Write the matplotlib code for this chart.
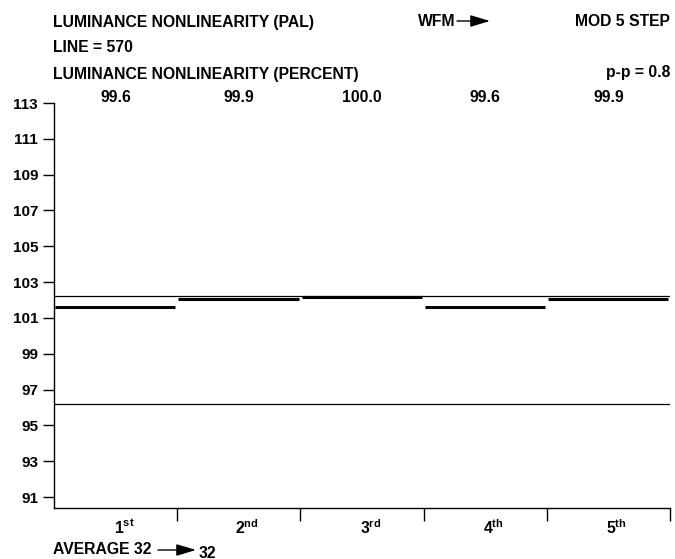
import matplotlib
matplotlib.use("Agg")
import matplotlib.pyplot as plt
from matplotlib.patches import FancyArrowPatch

plt.rcParams['font.family'] = ['Liberation Sans', 'DejaVu Sans']
plt.rcParams['font.weight'] = 'bold'
plt.rcParams['mathtext.fontset'] = 'custom'
plt.rcParams['mathtext.rm'] = 'Liberation Sans:bold'
plt.rcParams['mathtext.bf'] = 'Liberation Sans:bold'

# ---- data ----
steps = ["1st", "2nd", "3rd", "4th", "5th"]
step_num = ["1", "2", "3", "4", "5"]
step_sup = ["st", "nd", "rd", "th", "th"]
step_values = [101.63, 102.04, 102.16, 101.59, 102.06]   # plotted level of each step
step_percent = ["99.6", "99.9", "100.0", "99.6", "99.9"]  # printed percents
upper_ref = 102.2
lower_ref = 96.18
yticks = [91, 93, 95, 97, 99, 101, 103, 105, 107, 109, 111, 113]

W, H = 675, 559
fig = plt.figure(figsize=(W / 100, H / 100), dpi=100)

def fx(px):
    return px / W

def fy(py):
    return 1 - py / H

ax_left, ax_right, ax_top, ax_bot = 54, 670, 103, 508
ax = fig.add_axes([fx(ax_left), fy(ax_bot), (ax_right - ax_left) / W, (ax_bot - ax_top) / H])
ax.set_xlim(0, len(steps))
ax.set_ylim(90.39, 113)

for s in ['top', 'right']:
    ax.spines[s].set_visible(False)
for s in ['left', 'bottom']:
    ax.spines[s].set_linewidth(1.0)

ax.set_yticks(yticks)
ax.set_yticklabels([str(t) for t in yticks], fontsize=11, fontweight='bold')
ax.tick_params(axis='y', direction='out', length=8, width=1, pad=3.5)
ax.set_xticks(range(1, len(steps) + 1))
ax.set_xticklabels([])
ax.tick_params(axis='x', direction='out', length=9.4, width=1)

# reference lines
ax.axhline(upper_ref, color='black', lw=0.9)
ax.axhline(lower_ref, color='black', lw=0.9)

# step segments
for i, v in enumerate(step_values):
    ax.hlines(v, i + 0.01, i + 0.985, color='black', lw=2.2)

# category labels with superscript
for i in range(len(steps)):
    ax.annotate(r'$\mathbf{%s^{%s}}$' % (step_num[i], step_sup[i]),
                (i + 0.5, 0), xycoords=ax.get_xaxis_transform(),
                xytext=(6, -14), textcoords='offset points',
                ha='center', va='center', fontsize=11.3)

# percent values on top
for i, p in enumerate(step_percent):
    ax.annotate(p, (i + 0.5, 113), xytext=(0, 4), textcoords='offset points',
                ha='center', va='center', fontsize=11.3, fontweight='bold')

fs = 11.3
fig.text(fx(53), fy(22), "LUMINANCE NONLINEARITY (PAL)", ha='left', va='center', fontsize=fs, fontweight='bold')
fig.text(fx(418), fy(21), "WFM", ha='left', va='center', fontsize=fs, fontweight='bold')
fig.text(fx(670), fy(21), "MOD 5 STEP", ha='right', va='center', fontsize=fs, fontweight='bold')
fig.text(fx(53), fy(48), "LINE = 570", ha='left', va='center', fontsize=fs, fontweight='bold')
fig.text(fx(53), fy(74), "LUMINANCE NONLINEARITY (PERCENT)", ha='left', va='center', fontsize=fs, fontweight='bold')
fig.text(fx(670), fy(73), "p-p = 0.8", ha='right', va='center', fontsize=fs, fontweight='bold')
fig.text(fx(53), fy(550), "AVERAGE 32", ha='left', va='center', fontsize=fs, fontweight='bold')
fig.text(fx(199), fy(553), "32", ha='left', va='center', fontsize=fs, fontweight='bold')

def arrow(x0, x1, y):
    fig.add_artist(FancyArrowPatch(
        (fx(x0), fy(y)), (fx(x1), fy(y)), transform=fig.transFigure,
        arrowstyle='-|>,head_length=1.0,head_width=0.3', mutation_scale=12,
        color='black', lw=1.0, shrinkA=0, shrinkB=0))

arrow(457, 490, 21)
arrow(158, 196, 550)

fig.savefig("out.png", dpi=100)
